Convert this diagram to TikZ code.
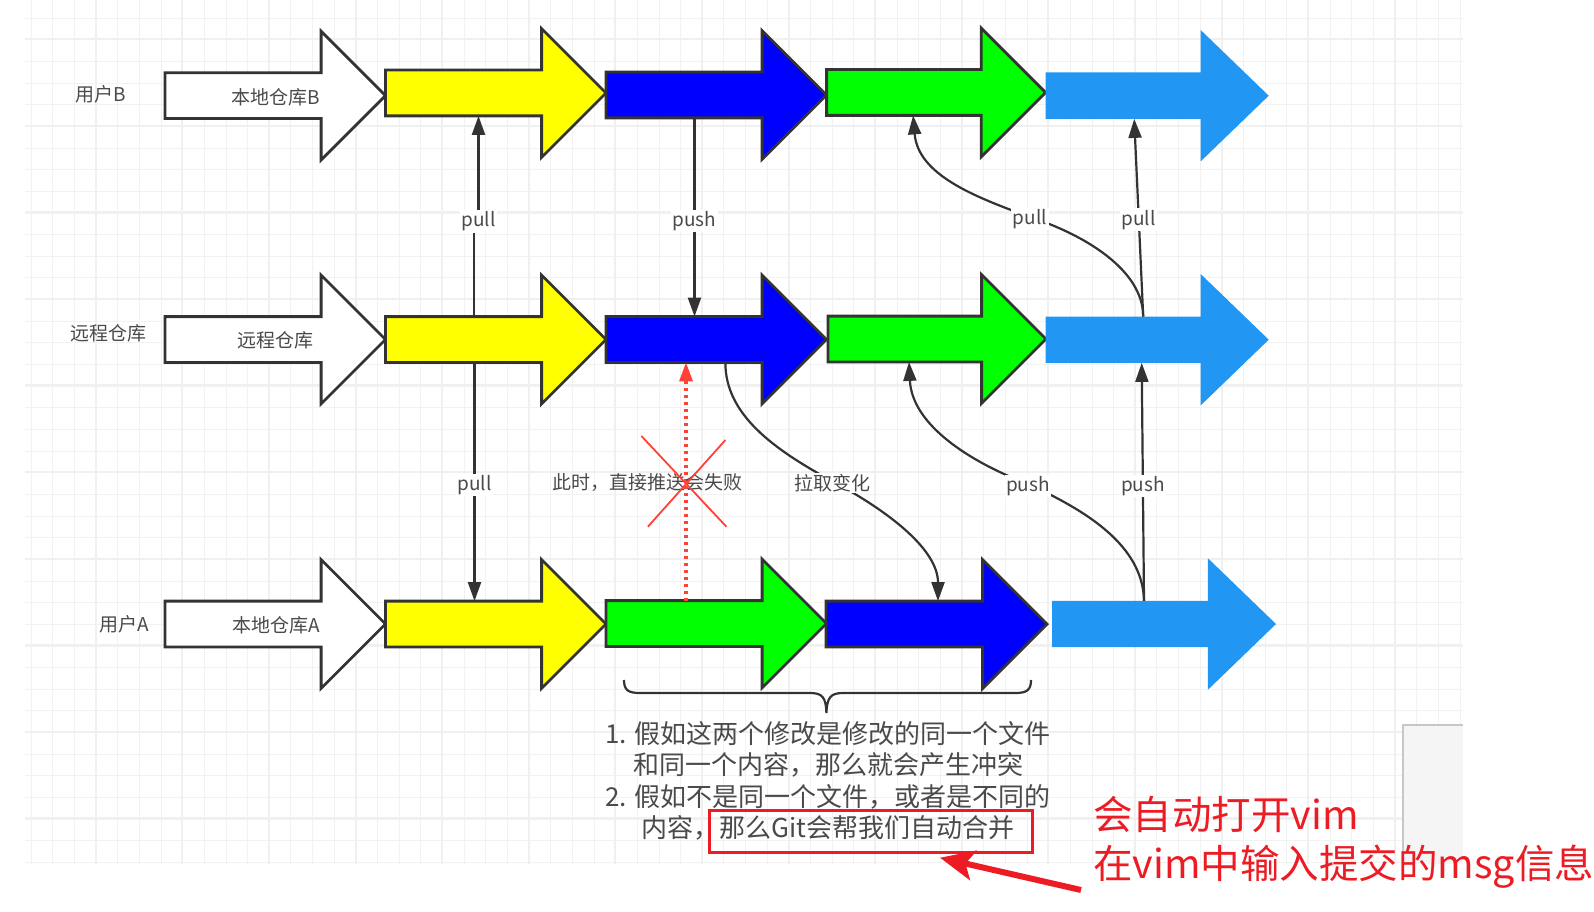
\documentclass[tikz,border=0pt]{standalone}
\usepackage{fontspec}
\setmainfont{Noto Sans CJK SC}
\usetikzlibrary{shapes.arrows,arrows.meta}
\definecolor{linecol}{HTML}{333333}
\definecolor{textcol}{HTML}{4A4A4A}
\definecolor{skyblue}{HTML}{2196F3}
\definecolor{failred}{HTML}{FF4136}
\definecolor{markred}{HTML}{ED1C24}
\definecolor{fullyellow}{RGB}{255,255,0}
\definecolor{fullblue}{RGB}{0,0,255}
\definecolor{fullgreen}{RGB}{0,255,0}
\newcommand{\fs}[1]{\fontsize{#1}{#1}\selectfont}
\tikzset{
  gridminor/.style={draw=black!5, line width=1pt},
  gridmajor/.style={draw=black!6, line width=2pt},
  bigarrow/.style={single arrow, single arrow head extend=41.5pt, draw=linecol, line width=2.8pt, fill=#1, minimum height=220.5pt, inner xsep=0pt, inner ysep=21.5pt, outer sep=0pt, anchor=tail},
  skyarrow/.style={single arrow, single arrow head extend=42.5pt, single arrow tip angle=88, fill=skyblue, minimum height=#1, inner xsep=0pt, inner ysep=23pt, outer sep=0pt, anchor=tail},
  link/.style={draw=linecol, line width=2.2pt, -{Triangle[length=19pt,width=13pt]}},
  lbl/.style={fill=white, text=textcol, font=\fs{19}, inner sep=1.5pt, yshift=-2pt},
  side/.style={text=textcol, font=\fs{19}, inner sep=0pt},
  failline/.style={draw=failred, line width=1.8pt},
  redtext/.style={text=markred, font=\fs{39.5}, inner sep=0pt, anchor=west},
}
\begin{document}
\begin{tikzpicture}[x=1pt,y=-1pt]
  \useasboundingbox (0,0) rectangle (1594,912);
  \foreach \i in {0,...,66} \draw[gridminor] ({round(30.7+\i*21.65)+.5},0) -- ({round(30.7+\i*21.65)+.5},864);
  \foreach \i in {0,...,39} \draw[gridminor] (25,{round(17.7+\i*21.65)+.5}) -- (1463,{round(17.7+\i*21.65)+.5});
  \foreach \i in {0,...,15} \draw[gridmajor] ({round(95.7+\i*86.6)},0) -- ({round(95.7+\i*86.6)},864);
  \foreach \i in {0,...,9} \draw[gridmajor] (25,{round(39+\i*86.6)}) -- (1463,{round(39+\i*86.6)});
  \fill[black!4] (1403,725) rectangle (1463,864);
  \draw[black!22, line width=1.4pt] (1403,864) -- (1403,725) -- (1463,725);

  \node[bigarrow=white] (whiteB) at (165,95.7) {};
  \node[bigarrow=fullyellow] (yellowB) at (385.5,93) {};
  \node[bigarrow=fullblue] (blueB) at (606,95) {};
  \node[bigarrow=fullgreen, minimum height=219pt] (greenB) at (826.6,92.5) {};
  \node[skyarrow=223pt] (skyB) at (1045.7,95.7) {};

  \node[bigarrow=white] (whiteR) at (165,339.5) {};
  \node[bigarrow=fullyellow] (yellowR) at (385.5,339.5) {};
  \node[bigarrow=fullblue] (blueR) at (606,339.5) {};
  \node[bigarrow=fullgreen, minimum height=218pt] (greenR) at (828,339) {};
  \node[skyarrow=223pt] (skyR) at (1045.7,339.7) {};

  \node[bigarrow=white] (whiteA) at (165,624) {};
  \node[bigarrow=fullyellow] (yellowA) at (385.5,624) {};
  \node[bigarrow=fullgreen] (greenA) at (606,623.5) {};
  \node[bigarrow=fullblue, minimum height=221pt] (blueA) at (826,624) {};
  \node[skyarrow=224pt] (skyA) at (1052,624) {};

  \node[side] (userB) at (100.8,94.3) {用户B};
  \node[side] (remote) at (108,333) {远程仓库};
  \node[side] (userA) at (124,624) {用户A};
  \node[side] (repoB) at (275.6,97.7) {本地仓库B};
  \node[side] (repoR) at (275.6,340.5) {远程仓库};
  \node[side] (repoA) at (276,625.5) {本地仓库A};

  \draw[link] ([xshift=88.5pt]yellowR.after tail) -- ++(0,-97) -- ++(4.5,0) node[lbl] (pullA) {pull} -- ([xshift=93pt]yellowB.before tail);
  \draw[link] ([xshift=89pt]yellowR.before tail) -- node[lbl, pos=.505] (pullB) {pull} ([xshift=89pt]yellowA.after tail);
  \draw[link] ([xshift=88.5pt]blueB.before tail) -- node[lbl, pos=.51] (pushA) {push} ([xshift=88.5pt]blueR.after tail);
  \draw[link] ([xshift=97.5pt]skyR.after tail) .. controls (1143,270) and (1085,235) .. (1030,217) node[lbl] (pullC) {pull} .. controls (975,197) and (918,175) .. ([xshift=86.5pt]greenB.before tail);
  \draw[link] ([xshift=97.5pt]skyR.after tail) -- node[lbl, pos=.5] (pullD) {pull} ([xshift=88.5pt]skyB.before tail);
  \draw[link] ([xshift=119.4pt]blueR.before tail) .. controls (725,415) and (775,450) .. (832,481) node[lbl] (fetch) {拉取变化} .. controls (890,512) and (938,550) .. ([xshift=112pt]blueA.after tail);
  \draw[link] ([xshift=92pt]skyA.after tail) .. controls (1143,545) and (1085,510) .. (1028,484) node[lbl] (pushB) {push} .. controls (970,462) and (912,425) .. ([xshift=81pt]greenR.before tail);
  \draw[link] ([xshift=92pt]skyA.after tail) -- node[lbl, pos=.49] (pushC) {push} ([xshift=96pt]skyR.before tail);

  \draw[failred, line width=3.2pt, dash pattern=on 3pt off 4pt, -{Triangle[length=19pt,width=13pt]}] ([xshift=80pt]greenA.after tail) -- ([xshift=80pt]blueR.before tail);
  \node[side] (fail) at (647.5,482.5) {此时，直接推送会失败};
  \coordinate (crossA) at (641.4,436);
  \coordinate (crossB) at (726.4,526.7);
  \coordinate (crossC) at (725.4,440);
  \coordinate (crossD) at (647.9,526.7);
  \draw[failline] (crossA) -- (crossB);
  \draw[failline] (crossC) -- (crossD);

  \draw[linecol, line width=2.2pt] (624,680) .. controls (624,690) and (628,693) .. (640,693) -- (810,693) .. controls (822,693) and (826,697) .. (826.4,713) .. controls (827,697) and (831,693) .. (843,693) -- (1015,693) .. controls (1027,693) and (1031,690) .. (1031,680);
  \node[align=center, text=textcol, font=\fontsize{26}{31.4}\selectfont, inner sep=0pt] (notes) at (828,781) {1. 假如这两个修改是修改的同一个文件\\和同一个内容，那么就会产生冲突\\2. 假如不是同一个文件，或者是不同的\\内容，那么Git会帮我们自动合并};

  \node[draw=markred, line width=2.6pt, minimum width=323pt, minimum height=42pt, inner sep=0pt, outer sep=0pt] (mergebox) at (871,831.7) {};
  \node[redtext] (vimA) at (1093,815) {会自动打开vim};
  \node[redtext] (vimB) at (1093,867) {在vim中输入提交的msg信息};
  \coordinate (tailmark) at (1081,890);
  \draw[markred, line width=6pt, -{Stealth[length=34pt,width=30pt,inset=8pt]}] (tailmark) -- ([shift={(69pt,-5pt)}]mergebox.south);
\end{tikzpicture}
\end{document}
